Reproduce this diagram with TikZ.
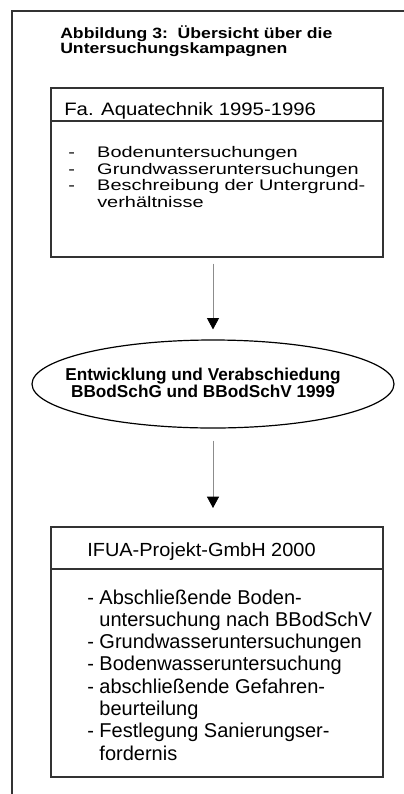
\documentclass[tikz,border=0pt]{standalone}
\usepackage{fontspec}
\usepackage{tikz}
\usepackage{xcolor}
\usetikzlibrary{arrows.meta,shapes.geometric}

\setmainfont{Liberation Sans}
\newfontfamily\titlefont[FakeStretch=1.18]{Liberation Sans}
\newfontfamily\aquafont[FakeStretch=1.3]{Liberation Sans}
\newfontfamily\aquaheadfont[FakeStretch=1.13]{Liberation Sans}
\newfontfamily\ifuaheadfont[FakeStretch=1.05]{Liberation Sans}

\newcommand{\itemdash}{\makebox[21.75pt][l]{-}}
\newcommand{\itemgap}{\hspace*{21.75pt}}

\tikzset{
  frameline/.style={draw=black!80, line width=1.2pt},
  box/.style={frameline, rectangle, inner sep=0pt, anchor=north west},
  flow/.style={draw=black!45, line width=0.6pt, -{Triangle[width=9pt,length=8.5pt,black]}},
}

\begin{document}
\begin{tikzpicture}[x=0.75pt,y=0.75pt,yscale=-1,xscale=1]
    \useasboundingbox (0,0) rectangle (404,794);

    %Outer frame
    \draw[frameline] (12,794) -- (12,11) -- (404,11) ;

    % Text Node (base = last line)
    \draw (60,53) node [anchor=base west][inner sep=0pt] [align=left] [font=\titlefont\bfseries\fontsize{11.2}{11.25}\selectfont] (title) {Abbildung 3:\ \ Übersicht über die\\Untersuchungskampagnen};

    %Box Aquatechnik
    \node[box, minimum width=249pt, minimum height=126.75pt] (aqua) at (50,87) {};
    %Straight Lines
    \draw[frameline] (50,121) -- (382,121) ;
    % Text Node
    \draw (64,115) node [anchor=base west][inner sep=0pt] [font=\aquaheadfont\fontsize{13.5}{15}\selectfont] (aquahead) {Fa. Aquatechnik 1995-1996};
    % Text Node
    \draw (68,207.5) node [anchor=base west][inner sep=0pt] [align=left] [font=\aquafont\fontsize{11.5}{12.4}\selectfont] (aquaitems) {\itemdash Bodenuntersuchungen\\\itemdash Grundwasseruntersuchungen\\\itemdash Beschreibung der Untergrund-\\\itemgap verhältnisse};

    %Ellipse
    \node[ellipse, draw=black, line width=0.9pt, minimum width=271.5pt, minimum height=66pt, inner sep=0pt] (law) at (213,384) {};
    % Text Node
    \draw (203,397) node [anchor=base][inner sep=0pt] [align=center] [font=\bfseries\fontsize{12.9}{12.75}\selectfont] (lawtext) {Entwicklung und Verabschiedung\\BBodSchG und BBodSchV 1999};

    %Box IFUA
    \node[box, minimum width=249pt, minimum height=187.5pt] (ifua) at (50,526) {};
    %Straight Lines
    \draw[frameline] (50,569) -- (382,569) ;
    % Text Node
    \draw (87,556) node [anchor=base west][inner sep=0pt] [font=\ifuaheadfont\fontsize{14.25}{17}\selectfont] (ifuahead) {IFUA-Projekt-GmbH 2000};
    % Text Node
    \draw (87,760) node [anchor=base west][inner sep=0pt] [align=left] [font=\fontsize{15}{16.7}\selectfont] (ifuaitems) {- Abschließende Boden-\\\phantom{- }untersuchung nach BBodSchV\\- Grundwasseruntersuchungen\\- Bodenwasseruntersuchung\\- abschließende Gefahren-\\\phantom{- }beurteilung\\- Festlegung Sanierungser-\\\phantom{- }fordernis};

    %Arrows
    \draw[flow, shorten <=4.5pt, shorten >=7.5pt] (law.north |- aqua.south) -- (law.north) ;
    \draw[flow, shorten <=9pt, shorten >=13.5pt] (law.south) -- (law.south |- ifua.north) ;

\end{tikzpicture}
\end{document}
